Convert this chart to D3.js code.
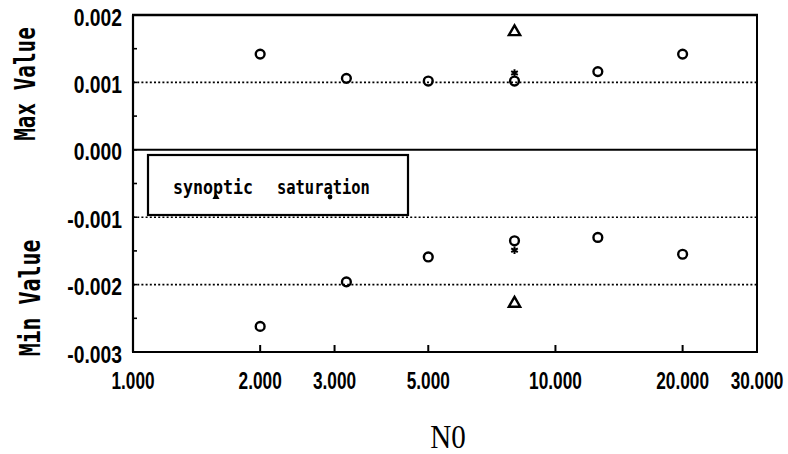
<!DOCTYPE html>
<html>
<head>
<meta charset="utf-8">
<script src="https://cdn.jsdelivr.net/npm/d3@7/dist/d3.min.js"></script>
<style>
  html, body { margin: 0; padding: 0; background: #fff; }
  svg { display: block; }
  .lbl { font-family: "Liberation Sans", Arial, sans-serif; font-weight: bold; fill: #000; }
  .mono { font-family: "DejaVu Sans Mono", monospace; font-weight: bold; fill: #000; }
</style>
</head>
<body>
<svg id="chart" width="788" height="454"></svg>
<script>
// N0 values at which each case was run
const n0 = [2, 3.2, 5, 8, 12.6, 20];
// extreme values of the main case
const maxValues = [0.00142, 0.00106, 0.00102, 0.00102, 0.00116, 0.00142];
const minValues = [-0.00262, -0.00196, -0.00159, -0.00135, -0.00130, -0.00155];
// extra cases run only at N0 = 8
const triangleN0 = [8];
const triangleMax = [0.00175];
const triangleMin = [-0.00228];
const starN0 = [8];
const starMax = [0.00114];
const starMin = [-0.00149];

const xTicks = [1, 2, 3, 5, 10, 20, 30];
const xTickLabels = ["1.000", "2.000", "3.000", "5.000", "10.000", "20.000", "30.000"];
const yTicks = [0.002, 0.001, 0.000, -0.001, -0.002, -0.003];
const yTickLabels = ["0.002", "0.001", "0.000", "-0.001", "-0.002", "-0.003"];
const gridValues = [0.001, -0.001, -0.002];
const legendNames = ["synoptic", "saturation"];

const svg = d3.select("#chart");
const plotLeft = 133, plotRight = 757, plotTop = 15, plotBottom = 352;
const x = d3.scaleLog().domain([1, 30]).range([plotLeft, plotRight]);
const y = d3.scaleLinear().domain([-0.003, 0.002]).range([plotBottom, plotTop]);

// dotted reference lines
svg.append("g").selectAll("line").data(gridValues).join("line")
  .attr("x1", plotLeft).attr("x2", plotRight)
  .attr("y1", d => y(d)).attr("y2", d => y(d))
  .attr("stroke", "#000").attr("stroke-width", 1.6).attr("stroke-dasharray", "2,2.2");

// zero line
svg.append("line").attr("x1", plotLeft).attr("x2", plotRight)
  .attr("y1", y(0)).attr("y2", y(0))
  .attr("stroke", "#000").attr("stroke-width", 2);

// frame
svg.append("line").attr("x1", plotLeft - 1).attr("x2", plotRight + 1).attr("y1", y(0.002)).attr("y2", y(0.002))
  .attr("stroke", "#000").attr("stroke-width", 2.6);
svg.append("line").attr("x1", plotLeft - 1).attr("x2", plotRight + 1).attr("y1", y(-0.003)).attr("y2", y(-0.003))
  .attr("stroke", "#000").attr("stroke-width", 2.2);
svg.append("line").attr("x1", x(1)).attr("x2", x(1)).attr("y1", plotTop).attr("y2", plotBottom)
  .attr("stroke", "#000").attr("stroke-width", 2.2);
svg.append("line").attr("x1", x(30)).attr("x2", x(30)).attr("y1", plotTop).attr("y2", plotBottom)
  .attr("stroke", "#000").attr("stroke-width", 2);

// inward ticks on the value axis, every 0.0005
const yMinor = d3.range(-0.0025, 0.002, 0.0005);
svg.append("g").selectAll("line").data(yMinor).join("line")
  .attr("x1", plotLeft).attr("x2", plotLeft + 4)
  .attr("y1", d => y(d)).attr("y2", d => y(d))
  .attr("stroke", "#000").attr("stroke-width", 1.6);

// inward ticks on the N0 axis
svg.append("g").selectAll("line").data(xTicks.slice(1, -1)).join("line")
  .attr("x1", d => x(d)).attr("x2", d => x(d))
  .attr("y1", plotBottom).attr("y2", plotBottom - 7)
  .attr("stroke", "#000").attr("stroke-width", 2);

// value tick labels (narrow lettering via horizontal scale)
svg.append("g").selectAll("text").data(yTicks).join("text")
  .attr("class", "lbl")
  .attr("transform", d => `translate(122,${y(d) + 10.5}) scale(0.84,1)`)
  .attr("text-anchor", "end")
  .attr("font-size", 23)
  .text((d, i) => yTickLabels[i]);

// N0 tick labels
svg.append("g").selectAll("text").data(xTicks).join("text")
  .attr("class", "lbl")
  .attr("transform", d => `translate(${x(d)},389) scale(0.75,1)`)
  .attr("text-anchor", "middle")
  .attr("font-size", 23)
  .text((d, i) => xTickLabels[i]);

// axis titles
svg.append("text").attr("class", "mono")
  .attr("transform", "translate(35,84) rotate(-90) scale(0.75,1)")
  .attr("text-anchor", "middle")
  .attr("font-size", 28)
  .text("Max Value");
svg.append("text").attr("class", "mono")
  .attr("transform", "translate(40,298) rotate(-90) scale(0.77,1)")
  .attr("text-anchor", "middle")
  .attr("font-size", 28)
  .text("Min Value");
svg.append("text")
  .attr("transform", "translate(448,448) scale(0.88,1)")
  .attr("text-anchor", "middle")
  .attr("font-family", "'Liberation Serif', 'Times New Roman', serif")
  .attr("font-size", 33)
  .attr("fill", "#000")
  .text("N0");

// legend
const lg = svg.append("g");
lg.append("rect").attr("x", 148).attr("y", 155).attr("width", 260).attr("height", 60)
  .attr("fill", "#fff").attr("stroke", "#000").attr("stroke-width", 2.2);
const legendX = [173, 277];
const legendScale = [0.875, 0.813];
lg.selectAll("text").data(legendNames).join("text")
  .attr("class", "mono")
  .attr("transform", (d, i) => `translate(${legendX[i]},193.5) scale(${legendScale[i]},1)`)
  .attr("font-size", 19)
  .text(d => d);
lg.append("path").attr("d", d3.symbol(d3.symbolTriangle, 22)())
  .attr("transform", "translate(216,197)").attr("fill", "#000");
lg.append("circle").attr("cx", 330).attr("cy", 197).attr("r", 2.4).attr("fill", "#000");

// markers
const marks = svg.append("g");
function circles(vals) {
  marks.append("g").selectAll("circle").data(vals).join("circle")
    .attr("cx", (d, i) => x(n0[i])).attr("cy", d => y(d)).attr("r", 4.4)
    .attr("fill", "none").attr("stroke", "#000").attr("stroke-width", 2.4);
}
circles(maxValues);
circles(minValues);

function symbols(xs, vals, type, size, sw) {
  marks.append("g").selectAll("path").data(vals).join("path")
    .attr("d", d3.symbol(type, size)())
    .attr("transform", (d, i) => `translate(${x(xs[i])},${y(d)})`)
    .attr("fill", "none").attr("stroke", "#000").attr("stroke-width", sw);
}
symbols(triangleN0, triangleMax, d3.symbolTriangle, 55, 2.4);
symbols(triangleN0, triangleMin, d3.symbolTriangle, 55, 2.4);
symbols(starN0, starMax, d3.symbolAsterisk, 40, 2);
symbols(starN0, starMin, d3.symbolAsterisk, 40, 2);
</script>
</body>
</html>
